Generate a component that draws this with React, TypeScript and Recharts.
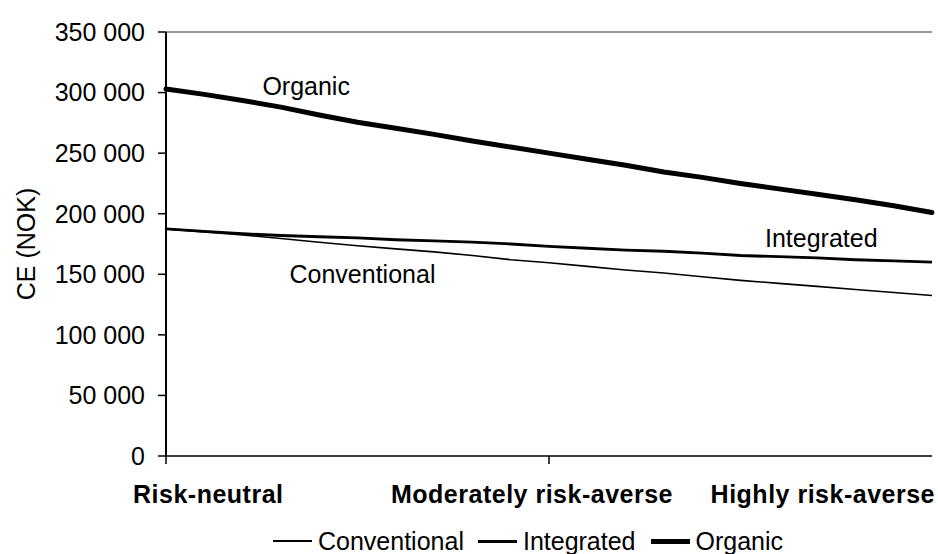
import { LineChart, Line, XAxis, YAxis, ReferenceLine, ReferenceDot, Legend, Label } from "recharts";

// risk aversion steps, from risk-neutral (0) to highly risk-averse (20)
const steps = [0, 1, 2, 3, 4, 5, 6, 7, 8, 9, 10, 11, 12, 13, 14, 15, 16, 17, 18, 19, 20];

const conventional = [
  187500, 185000, 182500, 179500, 176500, 173500, 171000, 168500, 165500, 162000, 159500,
  156500, 153500, 151000, 148000, 145000, 142500, 140000, 137500, 135000, 132500,
];
const integrated = [
  187500, 185500, 183500, 182000, 181000, 180000, 178500, 177500, 176500, 175000, 173000,
  171500, 170000, 169000, 167500, 165500, 164500, 163500, 162000, 161000, 160000,
];
const organic = [
  303000, 298500, 293500, 288000, 281500, 275500, 270500, 265500, 260000, 255000, 250000,
  245000, 240000, 234500, 230000, 225000, 220500, 216000, 211500, 206500, 201000,
];

const xTicks = [0, 10, 20];
const xTickLabels = ["Risk-neutral", "Moderately risk-averse", "Highly risk-averse"];
const yTicks = [0, 50000, 100000, 150000, 200000, 250000, 300000, 350000];

const data = steps.map((s, i) => ({
  step: s,
  conventional: conventional[i],
  integrated: integrated[i],
  organic: organic[i],
}));

const FONT = '"Liberation Sans", Arial, sans-serif';

const fmt = (v: number) => String(v).replace(/\B(?=(\d{3})+(?!\d))/g, " ");

function XTick(props: any) {
  const { x, y, payload } = props;
  const idx = xTicks.indexOf(payload.value);
  const anchor = idx === 0 ? "start" : idx === 1 ? "middle" : "end";
  const dx = idx === 0 ? -33 : idx === 1 ? -17 : 3;
  return (
    <g>
      {idx < 2 && <line x1={x} x2={x} y1={y - 8} y2={y} stroke="#000" strokeWidth={1.5} />}
      <text
        x={x + dx}
        y={y + 39}
        textAnchor={anchor}
        fontFamily={FONT}
        fontSize={25}
        fontWeight="bold"
        letterSpacing={0.5}
        fill="#000"
      >
        {xTickLabels[idx]}
      </text>
    </g>
  );
}

const legendItems = [
  { name: "Conventional", width: 1.5, gap: 0 },
  { name: "Integrated", width: 3, gap: 14 },
  { name: "Organic", width: 5, gap: 15 },
];

function LegendContent() {
  return (
    <div
      style={{
        width: 938,
        height: 42,
        boxSizing: "border-box",
        paddingTop: 16,
        paddingLeft: 273,
        display: "flex",
        alignItems: "center",
        fontFamily: FONT,
        fontSize: 25,
        lineHeight: "24px",
        color: "#000",
      }}
    >
      {legendItems.map((it) => (
        <div key={it.name} style={{ display: "flex", alignItems: "center", marginLeft: it.gap }}>
          <div style={{ width: 39, height: it.width, background: "#000", marginRight: 6 }} />
          <span>{it.name}</span>
        </div>
      ))}
    </div>
  );
}

export default function App() {
  return (
    <div style={{ position: "absolute", left: 0, top: 0, background: "#fff" }}>
      <LineChart width={938} height={554} data={data} margin={{ top: 32, right: 6, bottom: 0, left: 0 }}>
        <XAxis
          dataKey="step"
          type="number"
          domain={[0, 20]}
          ticks={xTicks}
          interval={0}
          height={56}
          tickSize={8}
          tickMargin={0}
          tickLine={false}
          axisLine={{ stroke: "#000", strokeWidth: 1.5 }}
          tick={<XTick />}
        />
        <YAxis
          width={166}
          domain={[0, 350000]}
          ticks={yTicks}
          interval={0}
          tickSize={8}
          tickMargin={13}
          tickFormatter={fmt}
          axisLine={{ stroke: "#000", strokeWidth: 2 }}
          tickLine={{ stroke: "#000", strokeWidth: 1.5 }}
          tick={{ fill: "#000", fontSize: 25, fontFamily: FONT }}
        >
          <Label
            content={(p: any) => {
              const vb = p.viewBox;
              const cx = vb.x + 26;
              const cy = vb.y + vb.height / 2;
              return (
                <text
                  transform={`translate(${cx},${cy}) rotate(-90)`}
                  textAnchor="middle"
                  dominantBaseline="central"
                  fontFamily={FONT}
                  fontSize={25}
                  fill="#000"
                >
                  CE (NOK)
                </text>
              );
            }}
          />
        </YAxis>
        <ReferenceLine y={350000} stroke="#333" strokeWidth={1.2} />
        <Legend verticalAlign="bottom" content={<LegendContent />} wrapperStyle={{ left: 0, width: 938 }} />
        <Line
          type="linear"
          dataKey="conventional"
          name="Conventional"
          stroke="#000"
          strokeWidth={1.6}
          dot={false}
          isAnimationActive={false}
        />
        <Line
          type="linear"
          dataKey="integrated"
          name="Integrated"
          stroke="#000"
          strokeWidth={2.8}
          dot={false}
          isAnimationActive={false}
        />
        <Line
          type="linear"
          dataKey="organic"
          name="Organic"
          stroke="#000"
          strokeWidth={5}
          strokeLinecap="round"
          dot={false}
          isAnimationActive={false}
        />
        <ReferenceDot
          x={3.66}
          y={305000}
          r={0}
          label={{ value: "Organic", position: "center", fontSize: 25, fontFamily: FONT, fill: "#000" }}
        />
        <ReferenceDot
          x={5.13}
          y={150000}
          r={0}
          label={{ value: "Conventional", position: "center", fontSize: 25, fontFamily: FONT, fill: "#000" }}
        />
        <ReferenceDot
          x={17.11}
          y={179700}
          r={0}
          label={{ value: "Integrated", position: "center", fontSize: 25, fontFamily: FONT, fill: "#000" }}
        />
      </LineChart>
    </div>
  );
}
